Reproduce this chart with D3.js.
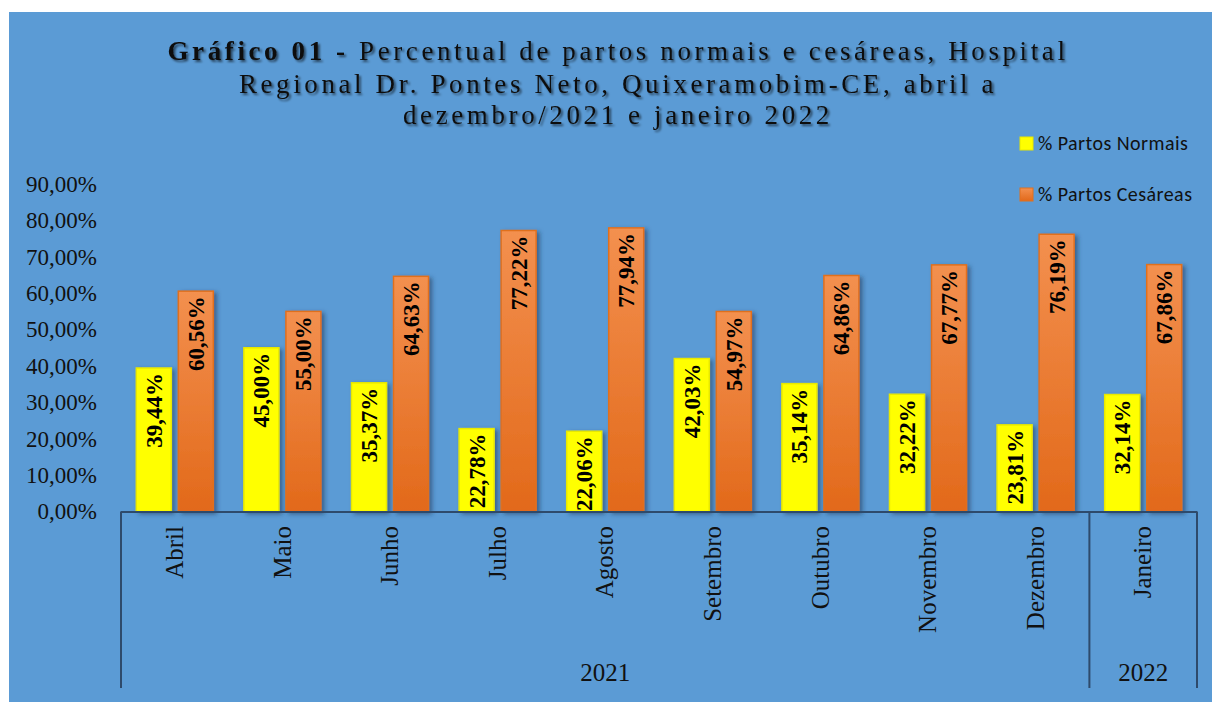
<!DOCTYPE html>
<html>
<head>
<meta charset="utf-8">
<script src="https://cdn.jsdelivr.net/npm/d3@7"></script>
<style>
html,body{margin:0;padding:0;background:#fff;}
svg{display:block;}
</style>
</head>
<body>
<svg id="chart" width="1212" height="702"></svg>
<script>
const months = ["Abril","Maio","Junho","Julho","Agosto","Setembro","Outubro","Novembro","Dezembro","Janeiro"];
const years = [{label:"2021", from:"Abril", to:"Dezembro"},{label:"2022", from:"Janeiro", to:"Janeiro"}];
const seriesNames = ["% Partos Normais","% Partos Cesáreas"];
const normais = [39.44,45.00,35.37,22.78,22.06,42.03,35.14,32.22,23.81,32.14];
const cesareas = [60.56,55.00,64.63,77.22,77.94,54.97,64.86,67.77,76.19,67.86];
const yTicks = [0,10,20,30,40,50,60,70,80,90];
const titleLines = [
  [{t:"Gráfico 01 - ", b:true},{t:"Percentual de partos normais e cesáreas, Hospital", b:false}],
  [{t:"Regional Dr. Pontes Neto, Quixeramobim-CE, abril a", b:false}],
  [{t:"dezembro/2021 e janeiro 2022", b:false}]
];

const svg = d3.select("#chart");
const defs = svg.append("defs");
const grad = defs.append("linearGradient").attr("id","og").attr("x1",0).attr("y1",0).attr("x2",0).attr("y2",1);
grad.append("stop").attr("offset","0%").attr("stop-color","#F3904F");
grad.append("stop").attr("offset","100%").attr("stop-color","#E2691A");
const sh = defs.append("filter").attr("id","sh").attr("x","-30%").attr("y","-10%").attr("width","160%").attr("height","130%");
sh.append("feDropShadow").attr("dx",3).attr("dy",2).attr("stdDeviation",2).attr("flood-color","#1d3552").attr("flood-opacity",0.55);
const tsh = defs.append("filter").attr("id","tsh").attr("x","-5%").attr("y","-30%").attr("width","110%").attr("height","160%");
tsh.append("feDropShadow").attr("dx",2).attr("dy",2).attr("stdDeviation",1.2).attr("flood-color","#000").attr("flood-opacity",0.55);

// background
svg.append("rect").attr("x",9).attr("y",12).attr("width",1212-9).attr("height",702-12).attr("fill","#5B9BD5");

const left = 121, right = 1197, y0 = 511.5, yTop = 184;
const x = d3.scaleBand().domain(months).range([left,right]).padding(0);
const xs = d3.scaleBand().domain(seriesNames).range([0,x.bandwidth()]).paddingInner(0.167).paddingOuter(0.364);
const y = d3.scaleLinear().domain([0,90]).range([y0,yTop]);

// y axis labels
const yAxis = d3.axisLeft(y).tickValues(yTicks).tickSize(0).tickPadding(0)
  .tickFormat(d => d3.format(".2f")(d).replace(".",",") + "%");
const gy = svg.append("g").attr("transform","translate(97,0)").call(yAxis);
gy.select(".domain").remove();
gy.selectAll("text").attr("font-family","'Liberation Serif','Times New Roman',serif").attr("font-size",23).attr("fill","#111");

// bars
const data = months.map((m,i)=>({m, vals:[{s:seriesNames[0],v:normais[i]},{s:seriesNames[1],v:cesareas[i]}]}));
const groups = svg.append("g").selectAll("g").data(data).join("g").attr("transform",d=>`translate(${x(d.m)},0)`);
groups.selectAll("rect").data(d=>d.vals).join("rect")
  .attr("x",d=>xs(d.s)).attr("width",xs.bandwidth())
  .attr("y",d=>y(d.v)).attr("height",d=>y0-y(d.v))
  .attr("fill",(d,i)=> i===0 ? "#FFFF00" : "url(#og)")
  .attr("stroke",(d,i)=> i===0 ? "#E8E800" : "#E0701F")
  .attr("stroke-width",1.5)
  .attr("filter","url(#sh)");
groups.selectAll("text.val").data(d=>d.vals).join("text").attr("class","val")
  .attr("transform",d=>`translate(${xs(d.s)+xs.bandwidth()/2},${y(d.v)+5}) rotate(-90)`)
  .attr("text-anchor","end").attr("dy","0.35em")
  .attr("font-family","'Liberation Serif','Times New Roman',serif").attr("font-weight","bold")
  .attr("font-size",23).attr("fill","#000")
  .text(d=>d3.format(".2f")(d.v).replace(".",",")+"%");

// category axis
const axisColor = "#2E4A6B";
svg.append("line").attr("x1",left).attr("x2",right).attr("y1",y0+0.5).attr("y2",y0+0.5).attr("stroke",axisColor).attr("stroke-width",2);
const bottom = 688;
const sepX = [left, ...years.map(yr => x(yr.to)+x.bandwidth())];
svg.selectAll("line.sep").data(sepX).join("line").attr("class","sep")
  .attr("x1",d=>d).attr("x2",d=>d).attr("y1",y0).attr("y2",bottom)
  .attr("stroke",axisColor).attr("stroke-width",2);
svg.selectAll("text.month").data(months).join("text").attr("class","month")
  .attr("transform",d=>`translate(${x(d)+x.bandwidth()/2},526) rotate(-90)`)
  .attr("text-anchor","end").attr("dy","0.33em")
  .attr("font-family","'Liberation Serif','Times New Roman',serif").attr("font-size",25).attr("fill","#111")
  .text(d=>d);
svg.selectAll("text.year").data(years).join("text").attr("class","year")
  .attr("x",d=>(x(d.from)+x(d.to)+x.bandwidth())/2).attr("y",681)
  .attr("text-anchor","middle")
  .attr("font-family","'Liberation Serif','Times New Roman',serif").attr("font-size",25).attr("fill","#111")
  .text(d=>d.label);

// title
const title = svg.append("g").attr("filter","url(#tsh)");
const baselines = [60,93,124];
titleLines.forEach((line,i)=>{
  const t = title.append("text").attr("x",618).attr("y",baselines[i]).attr("text-anchor","middle")
    .attr("font-family","'Liberation Serif','Times New Roman',serif").attr("font-size",27)
    .attr("letter-spacing",3.6).attr("fill","#111");
  line.forEach(p=>t.append("tspan").attr("font-weight",p.b?"bold":"normal").text(p.t));
});

// legend
const leg = svg.append("g").selectAll("g").data(seriesNames).join("g")
  .attr("transform",(d,i)=>`translate(1020,${137+i*51})`);
leg.append("rect").attr("width",13).attr("height",13)
  .attr("fill",(d,i)=> i===0 ? "#FFFF00" : "url(#og)").attr("stroke",(d,i)=>i===0?"#E8E800":"#E0701F");
leg.append("text").attr("x",18).attr("y",12.5)
  .attr("font-family","Carlito,Lato,'Noto Sans',sans-serif").attr("font-size",20).attr("letter-spacing",0.45).attr("fill","#111")
  .text(d=>d);
</script>
</body>
</html>
